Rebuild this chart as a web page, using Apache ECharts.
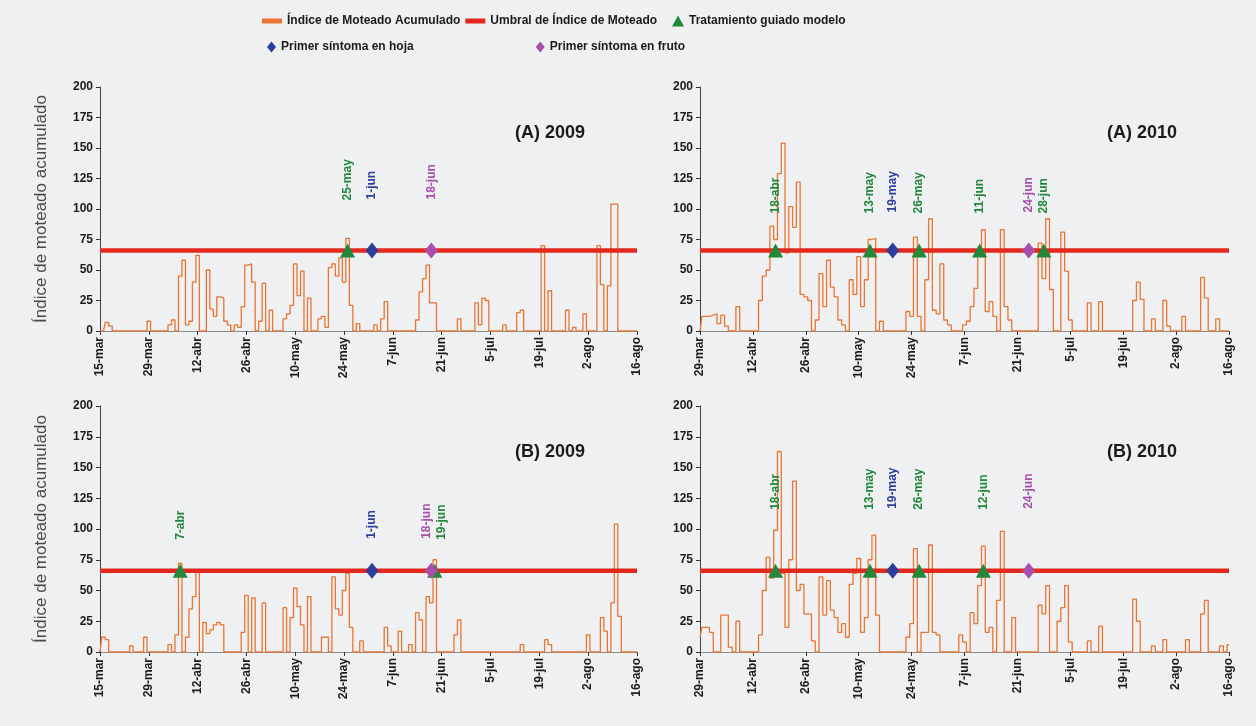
<!DOCTYPE html>
<html>
<head>
<meta charset="utf-8">
<title>Índice de moteado acumulado 2009-2010</title>
<script src="https://cdn.jsdelivr.net/npm/echarts@6.0.0/dist/echarts.min.js"></script>
<style>
  html, body { margin: 0; padding: 0; background: #eef0f1; }
  #chart { width: 1256px; height: 726px; }
</style>
</head>
<body>
<div id="chart"></div>
<script>
// umbral de índice de moteado
const umbral = 66

// etiquetas del eje x (cada 14 días)
const ticks2009 = ['15-mar', '29-mar', '12-abr', '26-abr', '10-may', '24-may', '7-jun', '21-jun', '5-jul', '19-jul', '2-ago', '16-ago']
const ticks2010 = ['29-mar', '12-abr', '26-abr', '10-may', '24-may', '7-jun', '21-jun', '5-jul', '19-jul', '2-ago', '16-ago']

// índice diario, día 0 = primera etiqueta del eje
const indiceA2009 = [
  0, 0, 7, 4, 0, 0, 0, 0, 0, 0,
  0, 0, 0, 0, 8, 0, 0, 0, 0, 0,
  5, 9, 0, 45, 58, 5, 8, 40, 62, 0,
  0, 50, 18, 12, 28, 27, 8, 5, 0, 5,
  3, 20, 54, 55, 40, 0, 8, 39, 0, 17,
  0, 0, 0, 10, 14, 21, 55, 29, 49, 0,
  27, 0, 0, 10, 12, 3, 52, 55, 45, 60,
  40, 76, 21, 0, 6, 0, 0, 0, 0, 5,
  0, 10, 24, 0, 0, 0, 0, 0, 0, 0,
  0, 9, 32, 43, 54, 23, 23, 0, 0, 0,
  0, 0, 0, 10, 0, 0, 0, 0, 23, 5,
  27, 25, 0, 0, 0, 0, 5, 0, 0, 0,
  15, 17, 0, 0, 0, 0, 0, 70, 0, 33,
  0, 0, 0, 0, 17, 0, 3, 0, 0, 14,
  0, 0, 0, 70, 38, 0, 37, 104, 104, 0,
  0, 0, 0, 0, 0
]
const indiceB2009 = [
  0, 12, 10, 0, 0, 0, 0, 0, 0, 5,
  0, 0, 0, 12, 0, 0, 0, 0, 0, 0,
  6, 0, 14, 72, 0, 12, 35, 45, 65, 0,
  24, 15, 18, 22, 24, 22, 0, 0, 0, 0,
  0, 16, 46, 0, 44, 0, 0, 40, 0, 0,
  0, 0, 0, 36, 0, 28, 52, 37, 22, 0,
  45, 0, 0, 0, 12, 12, 0, 61, 35, 30,
  50, 64, 20, 0, 0, 9, 0, 0, 0, 0,
  0, 0, 20, 5, 0, 0, 17, 0, 0, 6,
  0, 32, 26, 0, 45, 40, 75, 0, 0, 0,
  0, 0, 14, 26, 0, 0, 0, 0, 0, 0,
  0, 0, 0, 0, 0, 0, 0, 0, 0, 0,
  0, 6, 0, 0, 0, 0, 0, 0, 10, 6,
  0, 0, 0, 0, 0, 0, 0, 0, 0, 0,
  14, 0, 0, 0, 28, 17, 0, 40, 104, 29,
  0, 0, 0, 0, 0
]
const indiceA2010 = [
  0, 12, 12, 13, 14, 6, 13, 4, 0, 0,
  20, 0, 0, 0, 0, 0, 25, 45, 50, 86,
  75, 129, 154, 64, 102, 85, 122, 30, 28, 25,
  0, 9, 47, 20, 58, 36, 28, 9, 5, 0,
  42, 30, 61, 20, 42, 75, 76, 0, 8, 0,
  0, 0, 0, 0, 0, 16, 12, 77, 12, 0,
  42, 92, 17, 14, 55, 9, 5, 0, 0, 0,
  5, 8, 20, 35, 63, 83, 16, 24, 12, 0,
  83, 20, 9, 0, 0, 0, 0, 0, 0, 0,
  72, 43, 92, 34, 0, 0, 81, 49, 9, 0,
  0, 0, 0, 23, 0, 0, 24, 0, 0, 0,
  0, 0, 0, 0, 0, 25, 40, 26, 0, 0,
  10, 0, 0, 25, 4, 0, 0, 0, 12, 0,
  0, 0, 0, 44, 27, 0, 0, 10, 0, 0,
  0
]
const indiceB2010 = [
  12, 20, 20, 16, 0, 0, 30, 30, 4, 0,
  25, 0, 0, 0, 0, 0, 14, 50, 77, 60,
  99, 163, 64, 20, 75, 139, 50, 55, 31, 31,
  9, 0, 61, 30, 58, 34, 28, 16, 23, 12,
  55, 64, 76, 16, 28, 75, 95, 30, 0, 0,
  0, 0, 0, 0, 0, 12, 23, 84, 0, 16,
  16, 87, 16, 14, 0, 0, 0, 0, 0, 14,
  8, 0, 32, 23, 54, 86, 16, 20, 0, 42,
  98, 0, 0, 28, 0, 0, 0, 0, 0, 0,
  38, 31, 54, 0, 0, 25, 36, 54, 8, 0,
  0, 0, 0, 9, 0, 0, 21, 0, 0, 0,
  0, 0, 0, 0, 0, 43, 25, 0, 0, 0,
  5, 0, 0, 10, 0, 0, 0, 0, 0, 10,
  0, 0, 0, 31, 42, 0, 0, 0, 5, 0,
  6
]

// fechas de tratamientos y primeros síntomas
const tratA2009 = ['25-may']
const hojaA2009 = ['1-jun']
const frutoA2009 = ['18-jun']
const tratB2009 = ['7-abr', '19-jun']
const hojaB2009 = ['1-jun']
const frutoB2009 = ['18-jun']
const tratA2010 = ['18-abr', '13-may', '26-may', '11-jun', '28-jun']
const hojaA2010 = ['19-may']
const frutoA2010 = ['24-jun']
const tratB2010 = ['18-abr', '13-may', '26-may', '12-jun']
const hojaB2010 = ['19-may']
const frutoB2010 = ['24-jun']

const NAME_INDICE = 'Índice de Moteado Acumulado'
const NAME_UMBRAL = 'Umbral de Índice de Moteado'
const NAME_TRAT = 'Tratamiento guiado modelo'
const NAME_HOJA = 'Primer síntoma en hoja'
const NAME_FRUTO = 'Primer síntoma en fruto'

const C_ORANGE = '#ea7534'
const C_RED = '#e3281e'
const C_GREEN = '#23883a'
const C_BLUE = '#2c3f9e'
const C_PURPLE = '#a84fae'
const FONT = "'Liberation Sans', Arial, sans-serif"

const months = { mar: 2, abr: 3, may: 4, jun: 5, jul: 6, ago: 7 }
const toDay = (label, start, year) => {
  const [d, m] = label.split('-')
  const [d0, m0] = start.split('-')
  return Math.round((Date.UTC(year, months[m], +d) - Date.UTC(year, months[m0], +d0)) / 864e5)
}

// labelGap: separación entre marcador y fecha; shift: desplazamiento lateral de fechas solapadas
const panels = [
  { title: '(A) 2009', year: 2009, ticks: ticks2009, indice: indiceA2009, trat: tratA2009, hoja: hojaA2009, fruto: frutoA2009,
    grid: { left: 100, top: 87, width: 537, height: 244 }, yName: true, labelGap: 43, shift: {} },
  { title: '(A) 2010', year: 2010, ticks: ticks2010, indice: indiceA2010, trat: tratA2010, hoja: hojaA2010, fruto: frutoA2010,
    grid: { left: 700, top: 87, width: 529, height: 244 }, yName: false, labelGap: 30, shift: {} },
  { title: '(B) 2009', year: 2009, ticks: ticks2009, indice: indiceB2009, trat: tratB2009, hoja: hojaB2009, fruto: frutoB2009,
    grid: { left: 100, top: 406, width: 537, height: 246 }, yName: true, labelGap: 24, shift: { '18-jun': -5, '19-jun': 7 } },
  { title: '(B) 2010', year: 2010, ticks: ticks2010, indice: indiceB2010, trat: tratB2010, hoja: hojaB2010, fruto: frutoB2010,
    grid: { left: 700, top: 406, width: 529, height: 246 }, yName: false, labelGap: 54, shift: {} }
]

const markerSeries = (p, i, name, dates, symbol, size, color) => ({
  name,
  type: 'scatter',
  xAxisIndex: i,
  yAxisIndex: i,
  symbol,
  symbolSize: size,
  z: 5,
  itemStyle: { color, opacity: 1 },
  label: {
    show: true,
    formatter: '{b}',
    position: 'top',
    distance: p.labelGap,
    rotate: 90,
    align: 'left',
    verticalAlign: 'middle',
    color,
    fontFamily: FONT,
    fontWeight: 'bold',
    fontSize: 12
  },
  // con rotate 90, el offset local y se traduce en desplazamiento horizontal
  data: dates.map(lbl => ({
    name: lbl,
    value: [toDay(lbl, p.ticks[0], p.year), umbral],
    label: { offset: [0, p.shift[lbl] || 0] }
  }))
})

const grids = []
const xAxes = []
const yAxes = []
const titles = []
const series = []

panels.forEach((p, i) => {
  const maxDay = (p.ticks.length - 1) * 14
  grids.push(p.grid)
  titles.push({
    text: p.title,
    left: p.grid.left + p.grid.width - 127,
    top: p.grid.top + 32,
    textStyle: { fontFamily: FONT, fontWeight: 'bold', fontSize: 18, color: '#1b1b1b' }
  })
  xAxes.push({
    type: 'value',
    gridIndex: i,
    min: 0,
    max: maxDay,
    interval: 14,
    axisLine: { lineStyle: { color: '#8a8a8a', width: 1 } },
    axisTick: { show: true, length: 4, lineStyle: { color: '#333' } },
    splitLine: { show: false },
    axisLabel: {
      rotate: 90,
      margin: 6,
      color: '#1b1b1b',
      fontFamily: FONT,
      fontWeight: 'bold',
      fontSize: 12,
      formatter: v => p.ticks[Math.round(v / 14)]
    }
  })
  yAxes.push({
    type: 'value',
    gridIndex: i,
    min: 0,
    max: 200,
    interval: 25,
    name: p.yName ? 'Índice de moteado acumulado' : '',
    nameLocation: 'middle',
    nameGap: 50,
    nameTextStyle: { fontFamily: FONT, fontSize: 17, color: '#4a4a4a' },
    axisLine: { show: true, lineStyle: { color: '#444', width: 1 } },
    axisTick: { show: true, length: 4, lineStyle: { color: '#333' } },
    splitLine: { show: false },
    axisLabel: { color: '#1b1b1b', fontFamily: FONT, fontWeight: 'bold', fontSize: 12, margin: 7 }
  })

  series.push({
    name: NAME_INDICE,
    type: 'line',
    xAxisIndex: i,
    yAxisIndex: i,
    step: 'middle',
    symbol: 'none',
    z: 2,
    itemStyle: { color: C_ORANGE },
    lineStyle: { color: C_ORANGE, width: 1.3 },
    data: p.indice.map((v, k) => [k, v])
  })
  series.push({
    name: NAME_UMBRAL,
    type: 'line',
    xAxisIndex: i,
    yAxisIndex: i,
    symbol: 'none',
    z: 3,
    itemStyle: { color: C_RED },
    lineStyle: { color: C_RED, width: 4.5 },
    data: [[0, umbral], [maxDay, umbral]]
  })
  series.push(markerSeries(p, i, NAME_TRAT, p.trat, 'triangle', [15, 14], C_GREEN))
  series.push(markerSeries(p, i, NAME_HOJA, p.hoja, 'diamond', [13, 16], C_BLUE))
  series.push(markerSeries(p, i, NAME_FRUTO, p.fruto, 'diamond', [13, 16], C_PURPLE))
})

const legendText = { fontFamily: FONT, fontWeight: 'bold', fontSize: 12, color: '#1b1b1b' }

const option = {
  backgroundColor: '#eef0f1',
  animation: false,
  title: titles,
  legend: [
    {
      left: 262, top: 15, padding: 0, itemWidth: 20, itemHeight: 5, itemGap: 5, selectedMode: false,
      textStyle: legendText,
      data: [{ name: NAME_INDICE, icon: 'rect' }, { name: NAME_UMBRAL, icon: 'rect' }]
    },
    {
      left: 672, top: 15, padding: 0, itemWidth: 12, itemHeight: 11, selectedMode: false,
      textStyle: legendText,
      data: [{ name: NAME_TRAT, icon: 'triangle' }]
    },
    {
      left: 267, top: 41, padding: 0, itemWidth: 9, itemHeight: 11, itemGap: 122, selectedMode: false,
      textStyle: legendText,
      data: [{ name: NAME_HOJA, icon: 'diamond' }, { name: NAME_FRUTO, icon: 'diamond' }]
    }
  ],
  grid: grids,
  xAxis: xAxes,
  yAxis: yAxes,
  series
}

const chart = echarts.init(document.getElementById('chart'))
chart.setOption(option)
window.addEventListener('resize', () => chart.resize())
</script>
</body>
</html>
